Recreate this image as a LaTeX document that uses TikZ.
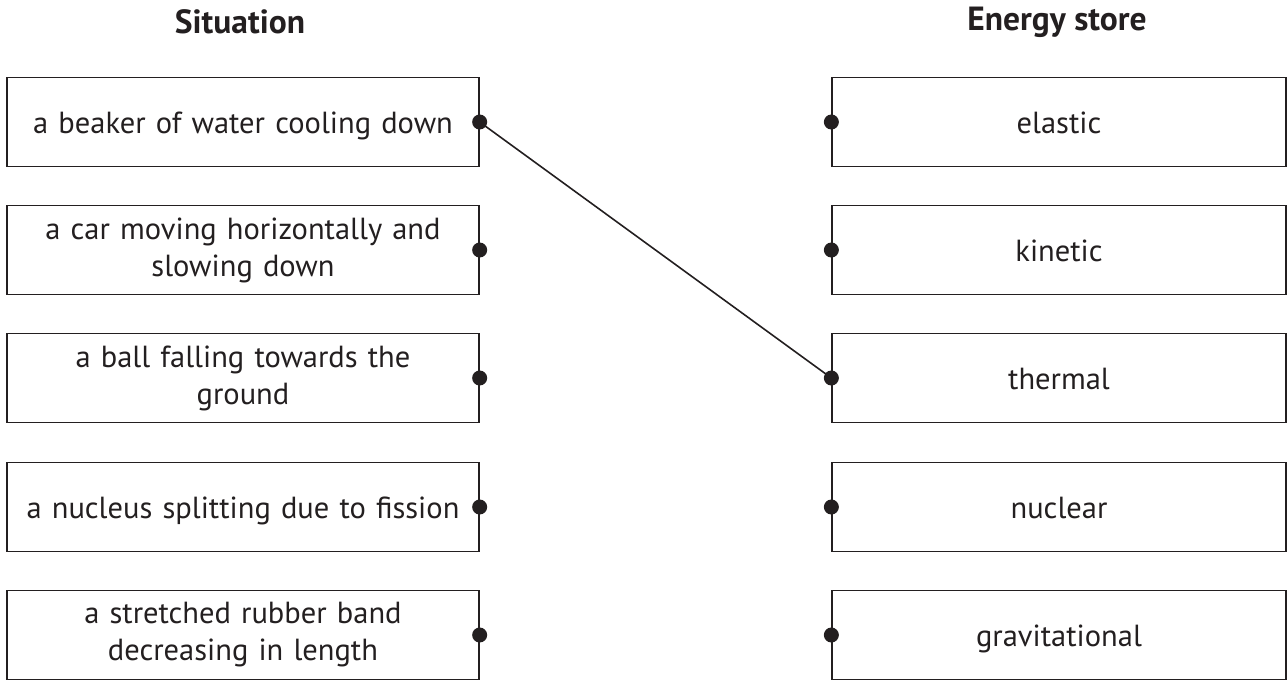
\documentclass[tikz,border=0pt]{standalone}
\usepackage{fontspec}
\setmainfont{PT Sans}
\definecolor{ink}{HTML}{231F20}
\begin{document}
\begin{tikzpicture}[x=1pt,y=-1pt,
  box/.style={draw=ink,line width=1.3pt,rectangle,minimum width=472pt,minimum height=89pt,
    align=center,text width=465pt,inner sep=0pt,
    font=\fontsize{30.5}{37}\selectfont,text=ink},
  one/.style={text height=24pt,text depth=2pt},
  rbox/.style={box,one,minimum width=454pt,text width=440pt},
  title/.style={font=\bfseries\fontsize{33.5}{38}\selectfont,text=ink},
  dot/.style={fill=ink},
  link/.style={draw=ink,line width=1.6pt}]
\useasboundingbox (0,0) rectangle (1287,680);
\node[title] (tl) at (240,22) {Situation};
\node[title] (tr) at (1057,22) {Energy store};
\node[box,one] (l1) at (243,122) {a beaker of water cooling down};
\node[box] (l2) at (243,250) {a car moving horizontally and\\slowing down};
\node[box] (l3) at (243,378) {a ball falling towards the\\ground};
\node[box,one] (l4) at (243,507) {a nucleus splitting due to fission};
\node[box] (l5) at (243,635) {a stretched rubber band\\decreasing in length};
\node[rbox] (r1) at (1059,122) {elastic};
\node[rbox] (r2) at (1059,250) {kinetic};
\node[rbox] (r3) at (1059,378) {thermal};
\node[rbox] (r4) at (1059,507) {nuclear};
\node[rbox] (r5) at (1059,635) {gravitational};
\draw[link] (l1.east) -- (r3.west);
\foreach \n in {l1,l2,l3,l4,l5} \fill[dot] (\n.east) circle (7.5);
\foreach \n in {r1,r2,r3,r4,r5} \fill[dot] (\n.west) circle (7.5);
\end{tikzpicture}
\end{document}
